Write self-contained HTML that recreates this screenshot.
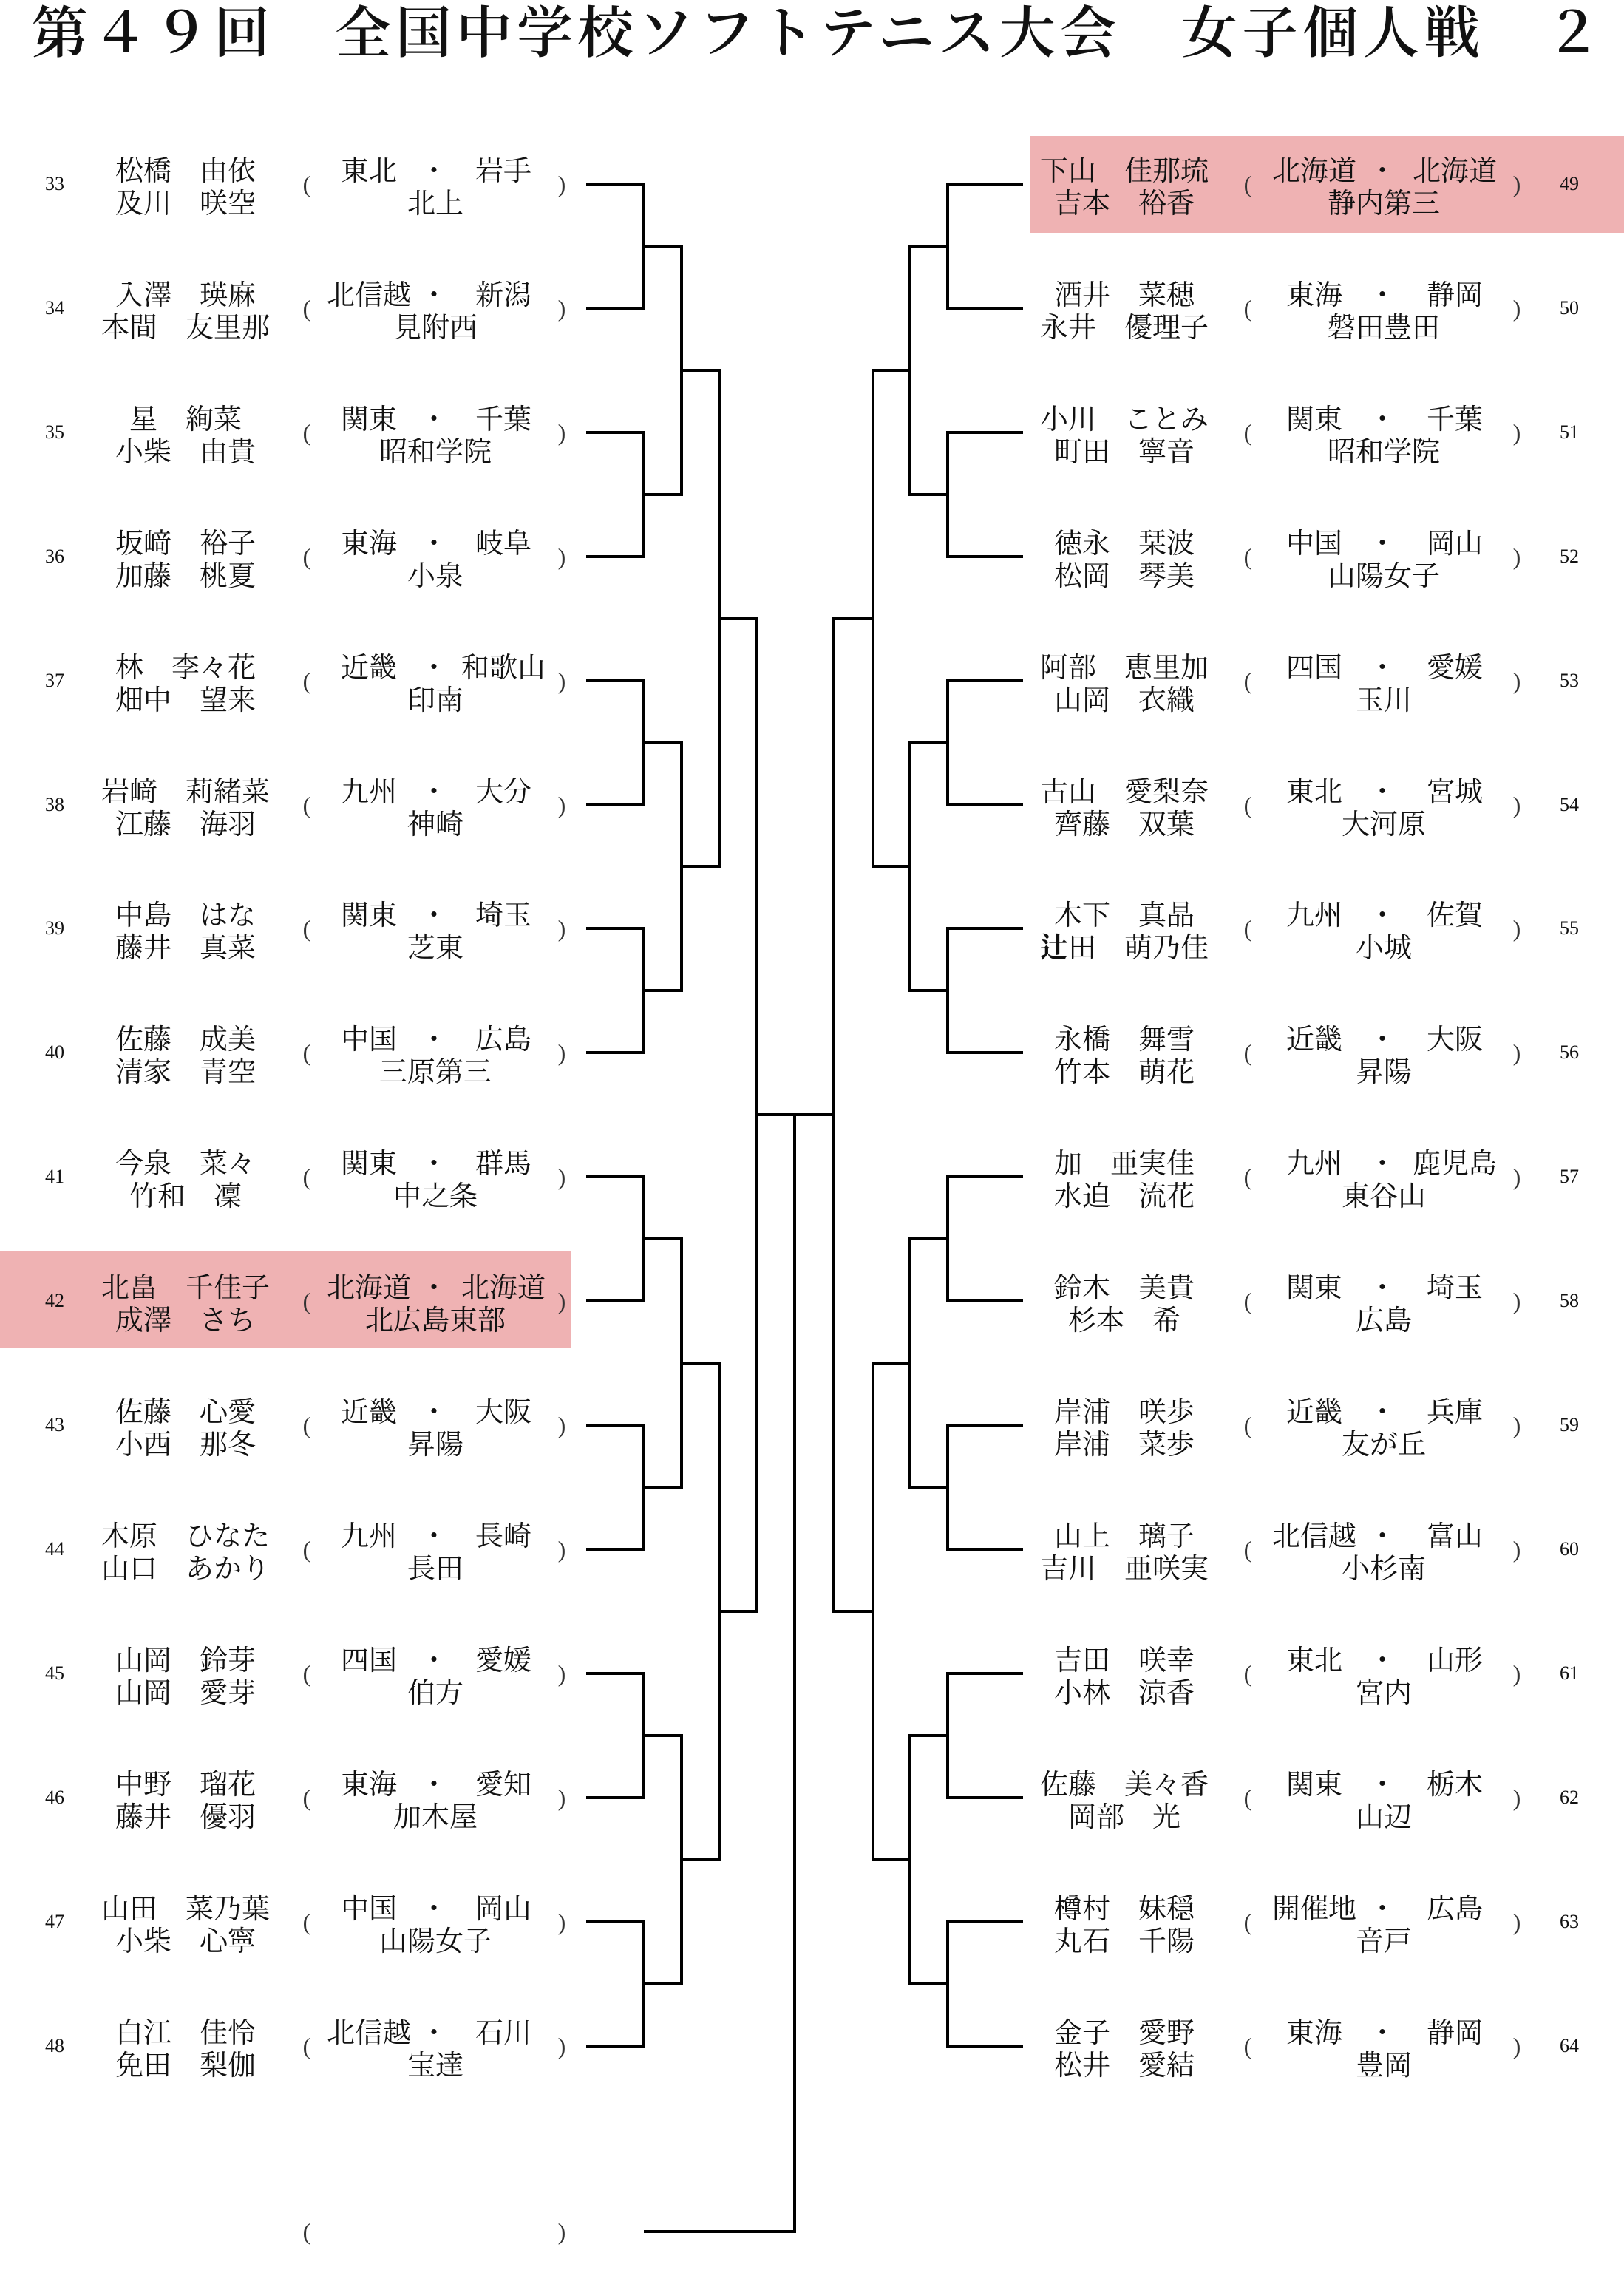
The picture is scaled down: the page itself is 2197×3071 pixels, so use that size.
<!DOCTYPE html>
<html><head><meta charset="utf-8"><style>
html,body{margin:0;padding:0;background:#fff}
body{width:2197px;height:3071px;position:relative;overflow:hidden;font-family:"Liberation Serif","Noto Serif CJK JP",serif;color:#111}
.title{position:absolute;left:43px;top:4px;font-size:76px;letter-spacing:6px;white-space:nowrap;font-family:"Liberation Serif","Noto Serif CJK JP",serif;font-weight:600;line-height:84px}
.hl{position:absolute;background:#efb2b3}
.r{position:absolute;left:0;width:2197px;height:0}
.r span{position:absolute;white-space:nowrap;transform:translate(-50%,-50%);font-size:38px;line-height:40px;top:0}
.r .u{top:-17px}.r .d{top:27px}
.r .n{font-size:26px}
.r .p{font-size:32px;color:#333}
.a{left:74px}.b{left:251px}.c{left:415px}.e{left:499px}.f{left:587px}.g{left:681px}.h{left:589px}.i{left:760px}
.A{left:1521px}.C{left:1688px}.E{left:1778px}.F{left:1870px}.G{left:1968px}.H{left:1872px}.I{left:2052px}.J{left:2123px}
svg{position:absolute;left:0;top:0}
</style></head><body>
<div class="title">第４９回　全国中学校ソフトテニス大会　女子個人戦　２</div>
<div class="hl" style="left:0;top:1692px;width:773px;height:131px"></div>
<div class="hl" style="left:1394px;top:184px;width:803px;height:131px"></div>
<svg width="2197" height="3071"><path fill="none" stroke="#000" stroke-width="4" d="
M793 249H871V417H793M793 585H871V753H793M793 921H871V1089H793M793 1256H871V1424H793M793 1592H871V1760H793M793 1928H871V2096H793M793 2264H871V2432H793M793 2600H871V2768H793
M871 333H922V669H871M871 1005H922V1340H871M871 1676H922V2012H871M871 2348H922V2684H871
M922 501H973V1172H922M922 1844H973V2516H922
M973 837H1024V2180H973
M1024 1508H1128M1075 1508V3019H871
M1384 249H1282V417H1384M1384 585H1282V753H1384M1384 921H1282V1089H1384M1384 1256H1282V1424H1384M1384 1592H1282V1760H1384M1384 1928H1282V2096H1384M1384 2264H1282V2432H1384M1384 2600H1282V2768H1384
M1282 333H1230V669H1282M1282 1005H1230V1340H1282M1282 1676H1230V2012H1282M1282 2348H1230V2684H1282
M1230 501H1181V1172H1230M1230 1844H1181V2516H1230
M1181 837H1128V2180H1181"/></svg>

<div class="r" style="top:249px"><span class="n a">33</span><span class="b u">松橋　由依</span><span class="b d">及川　咲空</span><span class="p c">(</span><span class="e u">東北</span><span class="f u">・</span><span class="g u">岩手</span><span class="h d">北上</span><span class="p i">)</span></div>
<div class="r" style="top:417px"><span class="n a">34</span><span class="b u">入澤　瑛麻</span><span class="b d">本間　友里那</span><span class="p c">(</span><span class="e u">北信越</span><span class="f u">・</span><span class="g u">新潟</span><span class="h d">見附西</span><span class="p i">)</span></div>
<div class="r" style="top:585px"><span class="n a">35</span><span class="b u">星　絢菜</span><span class="b d">小柴　由貴</span><span class="p c">(</span><span class="e u">関東</span><span class="f u">・</span><span class="g u">千葉</span><span class="h d">昭和学院</span><span class="p i">)</span></div>
<div class="r" style="top:753px"><span class="n a">36</span><span class="b u">坂﨑　裕子</span><span class="b d">加藤　桃夏</span><span class="p c">(</span><span class="e u">東海</span><span class="f u">・</span><span class="g u">岐阜</span><span class="h d">小泉</span><span class="p i">)</span></div>
<div class="r" style="top:921px"><span class="n a">37</span><span class="b u">林　李々花</span><span class="b d">畑中　望来</span><span class="p c">(</span><span class="e u">近畿</span><span class="f u">・</span><span class="g u">和歌山</span><span class="h d">印南</span><span class="p i">)</span></div>
<div class="r" style="top:1089px"><span class="n a">38</span><span class="b u">岩﨑　莉緒菜</span><span class="b d">江藤　海羽</span><span class="p c">(</span><span class="e u">九州</span><span class="f u">・</span><span class="g u">大分</span><span class="h d">神崎</span><span class="p i">)</span></div>
<div class="r" style="top:1256px"><span class="n a">39</span><span class="b u">中島　はな</span><span class="b d">藤井　真菜</span><span class="p c">(</span><span class="e u">関東</span><span class="f u">・</span><span class="g u">埼玉</span><span class="h d">芝東</span><span class="p i">)</span></div>
<div class="r" style="top:1424px"><span class="n a">40</span><span class="b u">佐藤　成美</span><span class="b d">清家　青空</span><span class="p c">(</span><span class="e u">中国</span><span class="f u">・</span><span class="g u">広島</span><span class="h d">三原第三</span><span class="p i">)</span></div>
<div class="r" style="top:1592px"><span class="n a">41</span><span class="b u">今泉　菜々</span><span class="b d">竹和　凜</span><span class="p c">(</span><span class="e u">関東</span><span class="f u">・</span><span class="g u">群馬</span><span class="h d">中之条</span><span class="p i">)</span></div>
<div class="r" style="top:1760px"><span class="n a">42</span><span class="b u">北畠　千佳子</span><span class="b d">成澤　さち</span><span class="p c">(</span><span class="e u">北海道</span><span class="f u">・</span><span class="g u">北海道</span><span class="h d">北広島東部</span><span class="p i">)</span></div>
<div class="r" style="top:1928px"><span class="n a">43</span><span class="b u">佐藤　心愛</span><span class="b d">小西　那冬</span><span class="p c">(</span><span class="e u">近畿</span><span class="f u">・</span><span class="g u">大阪</span><span class="h d">昇陽</span><span class="p i">)</span></div>
<div class="r" style="top:2096px"><span class="n a">44</span><span class="b u">木原　ひなた</span><span class="b d">山口　あかり</span><span class="p c">(</span><span class="e u">九州</span><span class="f u">・</span><span class="g u">長崎</span><span class="h d">長田</span><span class="p i">)</span></div>
<div class="r" style="top:2264px"><span class="n a">45</span><span class="b u">山岡　鈴芽</span><span class="b d">山岡　愛芽</span><span class="p c">(</span><span class="e u">四国</span><span class="f u">・</span><span class="g u">愛媛</span><span class="h d">伯方</span><span class="p i">)</span></div>
<div class="r" style="top:2432px"><span class="n a">46</span><span class="b u">中野　瑠花</span><span class="b d">藤井　優羽</span><span class="p c">(</span><span class="e u">東海</span><span class="f u">・</span><span class="g u">愛知</span><span class="h d">加木屋</span><span class="p i">)</span></div>
<div class="r" style="top:2600px"><span class="n a">47</span><span class="b u">山田　菜乃葉</span><span class="b d">小柴　心寧</span><span class="p c">(</span><span class="e u">中国</span><span class="f u">・</span><span class="g u">岡山</span><span class="h d">山陽女子</span><span class="p i">)</span></div>
<div class="r" style="top:2768px"><span class="n a">48</span><span class="b u">白江　佳怜</span><span class="b d">免田　梨伽</span><span class="p c">(</span><span class="e u">北信越</span><span class="f u">・</span><span class="g u">石川</span><span class="h d">宝達</span><span class="p i">)</span></div>
<div class="r" style="top:3019px"><span class="p c">(</span><span class="p i">)</span></div>

<div class="r" style="top:249px"><span class="A u">下山　佳那琉</span><span class="A d">吉本　裕香</span><span class="p C">(</span><span class="E u">北海道</span><span class="F u">・</span><span class="G u">北海道</span><span class="H d">静内第三</span><span class="p I">)</span><span class="n J">49</span></div>
<div class="r" style="top:417px"><span class="A u">酒井　菜穂</span><span class="A d">永井　優理子</span><span class="p C">(</span><span class="E u">東海</span><span class="F u">・</span><span class="G u">静岡</span><span class="H d">磐田豊田</span><span class="p I">)</span><span class="n J">50</span></div>
<div class="r" style="top:585px"><span class="A u">小川　ことみ</span><span class="A d">町田　寧音</span><span class="p C">(</span><span class="E u">関東</span><span class="F u">・</span><span class="G u">千葉</span><span class="H d">昭和学院</span><span class="p I">)</span><span class="n J">51</span></div>
<div class="r" style="top:753px"><span class="A u">徳永　栞波</span><span class="A d">松岡　琴美</span><span class="p C">(</span><span class="E u">中国</span><span class="F u">・</span><span class="G u">岡山</span><span class="H d">山陽女子</span><span class="p I">)</span><span class="n J">52</span></div>
<div class="r" style="top:921px"><span class="A u">阿部　恵里加</span><span class="A d">山岡　衣織</span><span class="p C">(</span><span class="E u">四国</span><span class="F u">・</span><span class="G u">愛媛</span><span class="H d">玉川</span><span class="p I">)</span><span class="n J">53</span></div>
<div class="r" style="top:1089px"><span class="A u">古山　愛梨奈</span><span class="A d">齊藤　双葉</span><span class="p C">(</span><span class="E u">東北</span><span class="F u">・</span><span class="G u">宮城</span><span class="H d">大河原</span><span class="p I">)</span><span class="n J">54</span></div>
<div class="r" style="top:1256px"><span class="A u">木下　真晶</span><span class="A d"><b>辻</b>田　萌乃佳</span><span class="p C">(</span><span class="E u">九州</span><span class="F u">・</span><span class="G u">佐賀</span><span class="H d">小城</span><span class="p I">)</span><span class="n J">55</span></div>
<div class="r" style="top:1424px"><span class="A u">永橋　舞雪</span><span class="A d">竹本　萌花</span><span class="p C">(</span><span class="E u">近畿</span><span class="F u">・</span><span class="G u">大阪</span><span class="H d">昇陽</span><span class="p I">)</span><span class="n J">56</span></div>
<div class="r" style="top:1592px"><span class="A u">加　亜実佳</span><span class="A d">水迫　流花</span><span class="p C">(</span><span class="E u">九州</span><span class="F u">・</span><span class="G u">鹿児島</span><span class="H d">東谷山</span><span class="p I">)</span><span class="n J">57</span></div>
<div class="r" style="top:1760px"><span class="A u">鈴木　美貴</span><span class="A d">杉本　希</span><span class="p C">(</span><span class="E u">関東</span><span class="F u">・</span><span class="G u">埼玉</span><span class="H d">広島</span><span class="p I">)</span><span class="n J">58</span></div>
<div class="r" style="top:1928px"><span class="A u">岸浦　咲歩</span><span class="A d">岸浦　菜歩</span><span class="p C">(</span><span class="E u">近畿</span><span class="F u">・</span><span class="G u">兵庫</span><span class="H d">友が丘</span><span class="p I">)</span><span class="n J">59</span></div>
<div class="r" style="top:2096px"><span class="A u">山上　璃子</span><span class="A d">吉川　亜咲実</span><span class="p C">(</span><span class="E u">北信越</span><span class="F u">・</span><span class="G u">富山</span><span class="H d">小杉南</span><span class="p I">)</span><span class="n J">60</span></div>
<div class="r" style="top:2264px"><span class="A u">吉田　咲幸</span><span class="A d">小林　涼香</span><span class="p C">(</span><span class="E u">東北</span><span class="F u">・</span><span class="G u">山形</span><span class="H d">宮内</span><span class="p I">)</span><span class="n J">61</span></div>
<div class="r" style="top:2432px"><span class="A u">佐藤　美々香</span><span class="A d">岡部　光</span><span class="p C">(</span><span class="E u">関東</span><span class="F u">・</span><span class="G u">栃木</span><span class="H d">山辺</span><span class="p I">)</span><span class="n J">62</span></div>
<div class="r" style="top:2600px"><span class="A u">樽村　妹穏</span><span class="A d">丸石　千陽</span><span class="p C">(</span><span class="E u">開催地</span><span class="F u">・</span><span class="G u">広島</span><span class="H d">音戸</span><span class="p I">)</span><span class="n J">63</span></div>
<div class="r" style="top:2768px"><span class="A u">金子　愛野</span><span class="A d">松井　愛結</span><span class="p C">(</span><span class="E u">東海</span><span class="F u">・</span><span class="G u">静岡</span><span class="H d">豊岡</span><span class="p I">)</span><span class="n J">64</span></div>
</body></html>
